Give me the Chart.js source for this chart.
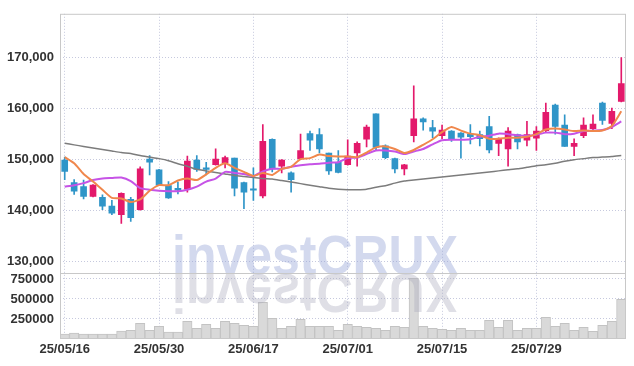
<!DOCTYPE html>
<html lang="en">
<head>
<meta charset="UTF-8" />
<title>investCRUX</title>
<script src="https://cdn.jsdelivr.net/npm/chart.js@4"></script>
<style>
  body { margin: 0; background: #fff; }
</style>
</head>
<body>
<canvas id="chart" width="634" height="366"></canvas>
<script>
// trading days (YY/MM/DD)
const dates = ['25/05/16','25/05/19','25/05/20','25/05/21','25/05/22','25/05/23','25/05/26','25/05/27','25/05/28','25/05/29',
  '25/05/30','25/06/02','25/06/04','25/06/05','25/06/09','25/06/10','25/06/11','25/06/12','25/06/13','25/06/16',
  '25/06/17','25/06/18','25/06/19','25/06/20','25/06/23','25/06/24','25/06/25','25/06/26','25/06/27','25/06/30',
  '25/07/01','25/07/02','25/07/03','25/07/04','25/07/07','25/07/08','25/07/09','25/07/10','25/07/11','25/07/14',
  '25/07/15','25/07/16','25/07/17','25/07/18','25/07/21','25/07/22','25/07/23','25/07/24','25/07/25','25/07/28',
  '25/07/29','25/07/30','25/07/31','25/08/01','25/08/04','25/08/05','25/08/06','25/08/07','25/08/08','25/08/11'];

const openP = [149800,145400,144600,142700,142500,140800,139100,142100,140100,150000,
  147900,144800,144300,144100,149800,148300,148900,149300,150200,145400,
  144200,142800,153900,148600,147300,150100,155000,154800,151200,149400,
  148900,151200,153900,158900,152600,150100,148100,154600,157900,156200,
  154600,155500,155100,154900,154800,156400,153100,152000,154800,153700,
  154100,155600,160600,156700,152500,154600,156000,161000,157000,161300];
const highP = [150400,146000,145900,145000,143000,141900,143400,142500,148500,150700,
  148000,145600,145500,150600,150700,149400,152000,150600,150200,145500,
  148300,156800,154000,149900,147500,154900,155500,156000,151200,151700,
  153800,153400,156700,158900,152800,150200,149000,164400,158100,157600,
  156700,155600,155200,156800,155500,158400,154200,156200,154900,157400,
  156400,161000,160800,158700,154000,158100,158700,161200,160000,169900];
const lowP = [146000,143100,142200,142600,140100,139100,137400,137800,140000,146900,
  144800,142300,143200,143500,147600,146900,148800,148300,142800,140300,
  141900,142400,147500,147300,143500,150000,151700,151200,147000,147300,
  148800,148600,152400,151700,150100,147300,146900,153400,155700,154200,
  154000,153500,150200,153000,152600,151200,150700,148600,152000,152600,
  151700,155200,154900,152500,150700,154200,155500,156800,156000,161200];
const closeP = [147600,143700,142700,144900,140800,139400,143300,138500,148100,149400,
  144900,142400,143900,149600,148000,148000,150000,150300,144300,143500,
  143900,153500,148100,149800,146000,151700,153700,152000,147700,147400,
  150600,153100,156300,152300,150300,148100,148900,157900,157300,155500,
  155700,153900,154300,154400,154000,151800,154000,155500,153400,154800,
  155500,159200,156400,152500,153100,156700,156900,157600,159400,164800];

// moving averages as drawn
const ma5 = [150400,149200,147100,145600,144000,142400,142300,141600,142100,143800,
  144900,144900,145800,146200,145900,147000,148300,149200,148300,147500,
  146700,147300,146900,148100,148500,150000,150200,150900,150600,150500,
  150500,150400,151300,152300,152500,152000,151200,151800,152800,153900,
  155300,156300,155600,155000,154700,154000,154000,154200,154200,154400,
  154900,155800,156000,155800,155500,155600,155500,155600,156500,159400];
const ma20 = [144600,144900,145300,145900,146200,146300,146400,145700,144300,144000,
  143800,143700,143700,144000,144600,145600,146200,147500,147300,147100,
  146700,147600,148100,148100,148500,148800,149000,149100,149300,149400,
  150200,150300,151000,151700,151700,151500,151000,151500,152000,152900,
  153700,153800,153800,153900,154400,154600,155000,154900,154700,154600,
  154800,155200,155200,154900,155000,155500,155600,155700,156300,157400];
const ma60 = [153100,152800,152500,152200,151900,151600,151300,151100,150700,150400,
  150100,149700,149100,148600,148000,147700,147400,147100,146800,146600,
  146400,146200,146100,145800,145500,145200,144900,144600,144300,144100,
  144000,144000,144100,144500,144800,145300,145700,145900,146100,146300,
  146500,146700,146900,147100,147300,147500,147700,147900,148100,148400,
  148700,148900,149200,149600,149900,150100,150300,150400,150500,150700];

const volume = [62000,75000,62000,62000,62000,62000,100000,108000,196000,108000,
  158000,87000,87000,221000,133000,183000,133000,221000,196000,171000,
  158000,458000,258000,133000,158000,246000,158000,158000,158000,108000,
  183000,158000,146000,133000,108000,158000,146000,758000,158000,133000,
  121000,108000,133000,108000,108000,233000,146000,233000,108000,133000,
  133000,271000,158000,196000,108000,146000,96000,171000,221000,496000];

const priceTicks = [130000, 140000, 150000, 160000, 170000];
const volumeTicks = [250000, 500000, 750000];
const labelEvery = 10;

const UP = '#e3196b', DOWN = '#2f95c8';
const candleColors = closeP.map((c, i) => (c >= openP[i] ? UP : DOWN));
const gridColor = '#c6c9de';
const tickFont = { family: "'Liberation Sans', sans-serif", size: 13, weight: 'bold' };

const framePlugin = {
  id: 'frame',
  afterDatasetsDraw(chart) {
    const { ctx, chartArea: a, scales } = chart;
    const base = Math.round(scales.y.bottom) + 1;
    const left = 172, right = 458, text = 'investCRUX';
    ctx.save();
    ctx.font = 'bold 56px "Liberation Sans"';
    const sx = (right - left) / ctx.measureText(text).width;
    // watermark
    ctx.save();
    ctx.translate(left, base);
    ctx.scale(sx, 1);
    ctx.fillStyle = 'rgba(150,165,215,0.42)';
    ctx.fillText(text, 0, 0);
    ctx.restore();
    // reflection
    ctx.save();
    ctx.beginPath();
    ctx.rect(a.left, base, a.width, 40);
    ctx.clip();
    ctx.translate(left, base);
    ctx.scale(sx, -1);
    ctx.fillStyle = 'rgba(170,170,190,0.38)';
    ctx.fillText(text, 0, 0);
    ctx.restore();
    ctx.restore();
  },
  afterDraw(chart) {
    const { ctx, chartArea: a, scales } = chart;
    ctx.save();
    ctx.strokeStyle = '#c8c8c8';
    ctx.lineWidth = 1;
    ctx.strokeRect(a.left + 0.5, a.top + 0.5, a.width - 1, a.height - 1);
    const sy = Math.round(scales.y.bottom) + 0.5;
    ctx.beginPath();
    ctx.moveTo(a.left, sy);
    ctx.lineTo(a.right, sy);
    ctx.stroke();
    ctx.restore();
  }
};

const maLine = (data, color, width) => ({
  type: 'line', data, borderColor: color, borderWidth: width, pointRadius: 0,
  tension: 0.2, yAxisID: 'y', order: 0
});

new Chart(document.getElementById('chart'), {
  type: 'bar',
  data: {
    labels: dates,
    datasets: [
      maLine(ma5, '#f0874c', 2),
      maLine(ma20, '#c653e6', 2),
      maLine(ma60, '#7c7c7c', 1.5),
      {
        data: dates.map((d, i) => [openP[i], closeP[i]]),
        backgroundColor: candleColors, barThickness: 6, minBarLength: 1,
        grouped: false, yAxisID: 'y', order: 1
      },
      {
        data: dates.map((d, i) => [lowP[i], highP[i]]),
        backgroundColor: candleColors, barThickness: 1,
        grouped: false, yAxisID: 'y', order: 2
      },
      {
        data: volume, backgroundColor: '#d9d9d9', borderColor: '#c3c3c3', borderWidth: 1,
        barPercentage: 1, categoryPercentage: 1, grouped: false, yAxisID: 'yv', order: 3
      }
    ]
  },
  options: {
    responsive: false,
    animation: false,
    devicePixelRatio: 1,
    layout: { padding: { top: 9, right: 8 } },
    plugins: { legend: { display: false }, tooltip: { enabled: false } },
    scales: {
      x: {
        type: 'category',
        offset: true,
        afterBuildTicks: (s) => { s.ticks = s.ticks.filter((t) => t.value % labelEvery === 0); },
        afterFit: (s) => { s.height = 27; },
        grid: { offset: false, color: gridColor, drawTicks: false },
        border: { display: false, dash: [1, 2] },
        ticks: { autoSkip: false, maxRotation: 0, font: tickFont, color: '#333', padding: 3 }
      },
      yv: {
        type: 'linear', position: 'left', stack: 'panes', stackWeight: 67,
        min: 0, max: 825000,
        afterBuildTicks: (s) => { s.ticks = volumeTicks.map((v) => ({ value: v })); },
        afterFit: (s) => { s.width = 60; },
        grid: { color: gridColor, drawTicks: false },
        border: { display: false, dash: [1, 2] },
        ticks: { autoSkip: false, font: tickFont, color: '#333', padding: 6, callback: (v) => String(v) }
      },
      y: {
        type: 'linear', position: 'left', stack: 'panes', stackWeight: 263,
        min: 127680, max: 178500,
        afterBuildTicks: (s) => { s.ticks = priceTicks.map((v) => ({ value: v })); },
        afterFit: (s) => { s.width = 60; },
        grid: { color: gridColor, drawTicks: false },
        border: { display: false, dash: [1, 2] },
        ticks: { autoSkip: false, font: tickFont, color: '#333', padding: 6, callback: (v) => v.toLocaleString('en-US') }
      }
    }
  },
  plugins: [framePlugin]
});
</script>
</body>
</html>
